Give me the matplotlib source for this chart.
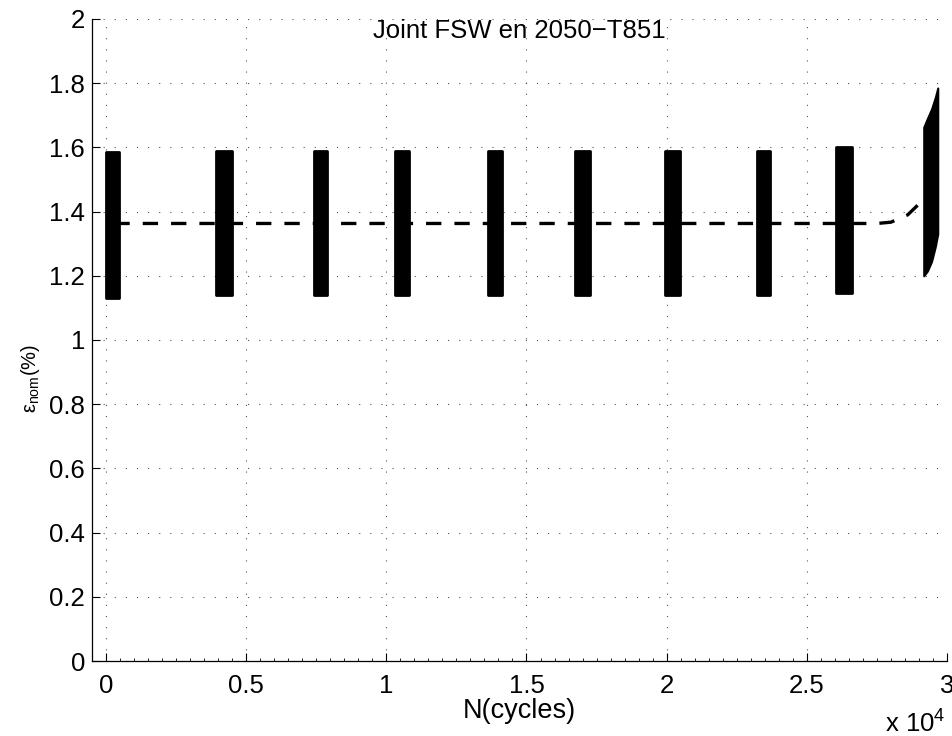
import numpy as np
import matplotlib.pyplot as plt
from matplotlib.ticker import MultipleLocator, FuncFormatter

plt.rcParams['font.family'] = ['Liberation Sans', 'DejaVu Sans']
plt.rcParams['mathtext.fontset'] = 'custom'
plt.rcParams['mathtext.rm'] = 'Liberation Sans'
plt.rcParams['mathtext.it'] = 'Liberation Sans:italic'

# blocks of recorded cycles (start, end in cycles, strain min / max in %)
block_start = [0, 3920, 7430, 10320, 13620, 16730, 19940, 23240, 26040]
block_end = [475, 4490, 7900, 10810, 14140, 17260, 20470, 23680, 26600]
block_min = [1.130, 1.140, 1.140, 1.140, 1.140, 1.140, 1.140, 1.140, 1.145]
block_max = [1.587, 1.590, 1.590, 1.590, 1.590, 1.590, 1.590, 1.590, 1.600]

# last block just before failure (ratcheting)
last_x = [29170, 29300, 29450, 29580, 29670]
last_min = [1.200, 1.215, 1.245, 1.290, 1.330]
last_max = [1.663, 1.690, 1.720, 1.755, 1.785]

# mean strain
mean_x = [300, 27500, 28000, 28600, 29100, 29400]
mean_y = [1.363, 1.363, 1.367, 1.390, 1.432, 1.470]

fig = plt.figure(figsize=(9.53, 7.36), dpi=100)
ax = fig.add_axes([0.0965, 0.1019, 0.8972, 0.8723])

for x0, x1, lo, hi in zip(block_start, block_end, block_min, block_max):
    ax.fill_between([x0, x1], [lo, lo], [hi, hi], color='black',
                    edgecolor='black', linewidth=2.0, joinstyle='round')
ax.fill_between(last_x, last_min, last_max, color='black',
                edgecolor='black', linewidth=1.5, joinstyle='round')

ax.plot(mean_x, mean_y, color='black', linewidth=2.4, linestyle=(0, (4.6, 3.9)))

ax.set_xlim(-500, 30000)
ax.set_ylim(0, 2)
ax.xaxis.set_major_locator(MultipleLocator(5000))
ax.xaxis.set_minor_locator(MultipleLocator(500))
ax.yaxis.set_major_locator(MultipleLocator(0.2))
ax.xaxis.set_major_formatter(FuncFormatter(lambda v, p: '%g' % (v / 1e4)))
ax.yaxis.set_major_formatter(FuncFormatter(lambda v, p: '%g' % round(v, 1)))

ax.spines['top'].set_visible(False)
ax.spines['right'].set_visible(False)
for s in ('left', 'bottom'):
    ax.spines[s].set_linewidth(0.9)
ax.tick_params(which='major', direction='in', length=6, width=0.8,
               labelsize=18.5)
ax.tick_params(axis='x', which='major', pad=9)
ax.tick_params(axis='y', which='major', pad=5)
ax.tick_params(axis='x', which='minor', direction='in', length=2.5, width=0.6)

ax.grid(True, which='major', color='#555555', linewidth=0.8,
        linestyle=(0, (1, 9)))
ax.set_axisbelow(True)

ax.text(0.5, 1.0, 'Joint FSW en 2050\u2212T851', transform=ax.transAxes,
        ha='center', va='top', fontsize=18.5)
ax.set_xlabel('N(cycles)', fontsize=19.5)
ax.xaxis.set_label_coords(0.5, -0.057)
ax.set_ylabel(r'$\mathrm{\varepsilon}_{\mathrm{nom}}$(%)', fontsize=14.5)
ax.yaxis.set_label_coords(-0.058, 0.44)
fig.text(0.992, -0.002, r'x 10$^{4}$', ha='right', va='bottom', fontsize=18.5)

fig.savefig('out.png', dpi=100)
